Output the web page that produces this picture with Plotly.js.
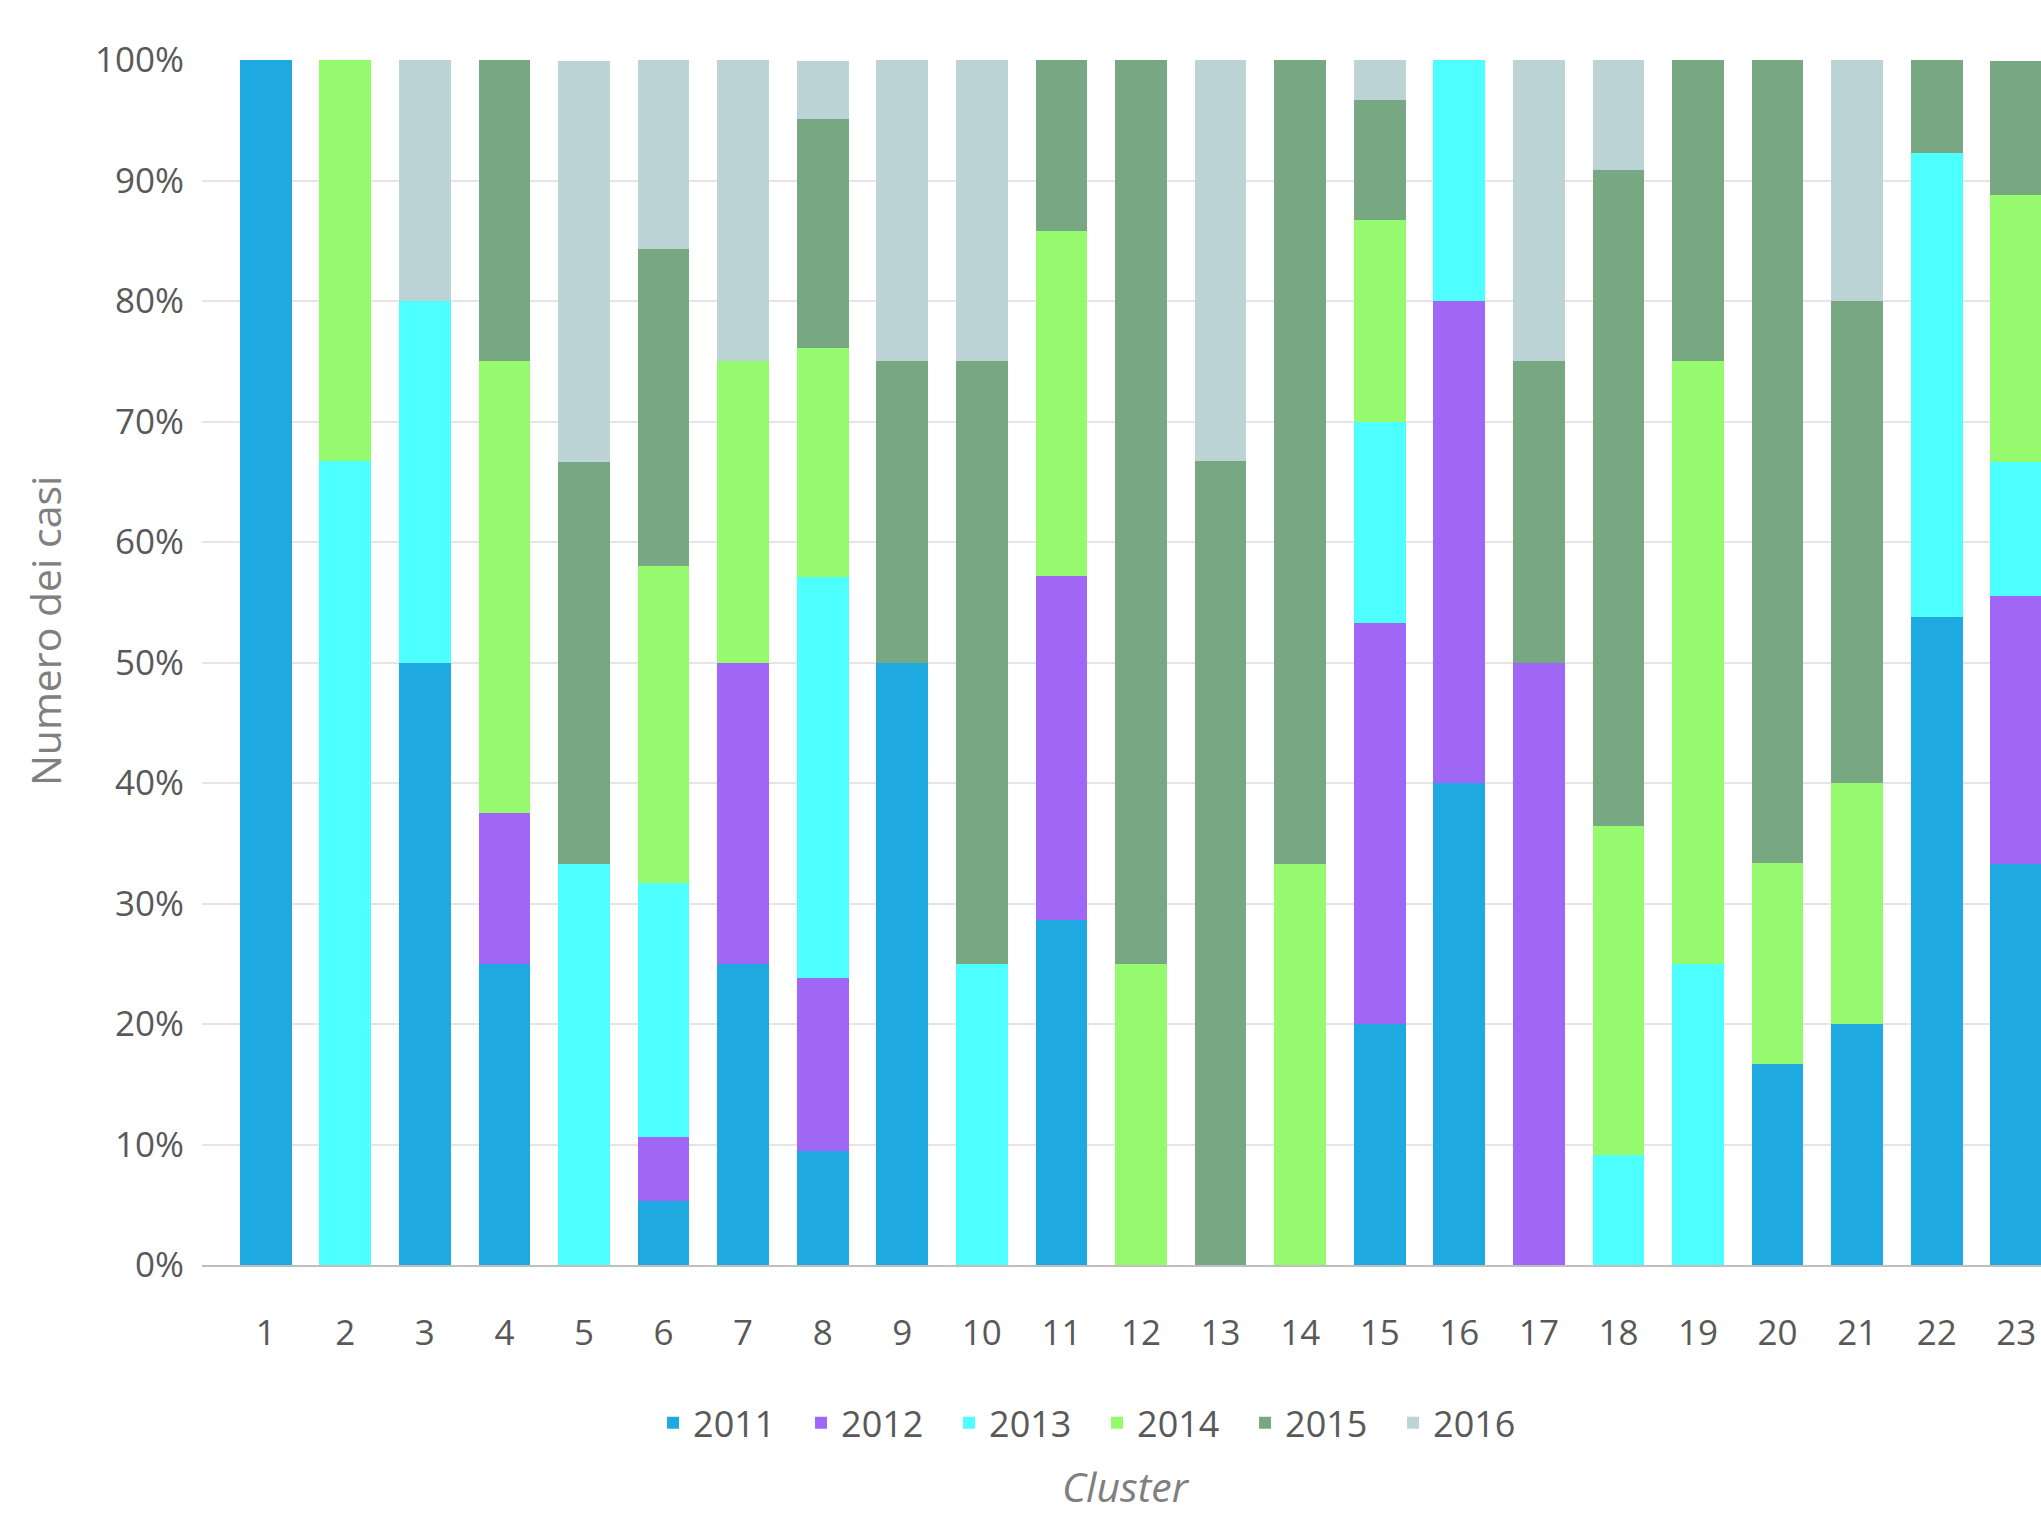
<!DOCTYPE html>
<html>
<head>
<meta charset="utf-8">
<script src="https://cdn.plot.ly/plotly-3.0.1.min.js"></script>
<style>html,body{margin:0;padding:0;background:#fff;}#chart{width:2041px;height:1514px;}</style>
</head>
<body>
<div id="chart"></div>
<script>
// Cluster categories
var clusters = [1,2,3,4,5,6,7,8,9,10,11,12,13,14,15,16,17,18,19,20,21,22,23];
var years = ["2011","2012","2013","2014","2015","2016"];
// Share of cases per year (%), stacked
var y2011 = [100,0,50,25,0,5.3,25,9.5,50,0,28.6,0,0,0,20,40,0,0,0,16.7,20,53.8,33.3];
var y2012 = [0,0,0,12.5,0,5.3,25,14.3,0,0,28.6,0,0,0,33.3,40,50,0,0,0,0,0,22.2];
var y2013 = [0,66.7,30,0,33.3,21.1,0,33.3,0,25,0,0,0,0,16.7,20,0,9.1,25,0,0,38.5,11.1];
var y2014 = [0,33.3,0,37.5,0,26.3,25,19.0,0,0,28.6,25,0,33.3,16.7,0,0,27.3,50,16.7,20,0,22.2];
var y2015 = [0,0,0,25,33.3,26.3,0,19.0,25,50,14.3,75,66.7,66.7,10,0,25,54.5,25,66.7,40,7.7,11.1];
var y2016 = [0,0,20,0,33.3,15.8,25,4.8,25,25,0,0,33.3,0,3.3,0,25,9.1,0,0,20,0,0];
var yTicks = [0,10,20,30,40,50,60,70,80,90,100];

var series = [y2011,y2012,y2013,y2014,y2015,y2016];
var colors = ["#1EAAE0","#A066F5","#4EFFFF","#96FA6E","#78A882","#BDD4D6"];

var traces = series.map(function(vals, i){
  return {
    type: "bar",
    name: years[i],
    x: clusters,
    y: vals,
    marker: {color: colors[i], line: {width: 0}},
    hoverinfo: "x+y+name"
  };
});

var layout = {
  width: 2041,
  height: 1514,
  paper_bgcolor: "#ffffff",
  plot_bgcolor: "#ffffff",
  barmode: "stack",
  bargap: 0.35,
  margin: {l: 202, r: 0, t: 60, b: 249, pad: 0},
  font: {family: "Open Sans, sans-serif", color: "#595959"},
  xaxis: {
    range: [0.2, 23.31],
    tickmode: "array",
    tickvals: clusters,
    ticktext: clusters.map(String),
    ticks: "outside",
    ticklen: 36,
    tickcolor: "rgba(0,0,0,0)",
    tickfont: {size: 35, color: "#595959", family: "Open Sans, sans-serif"},
    showgrid: false,
    zeroline: false,
    showline: true,
    linecolor: "#BFBFBF",
    linewidth: 2,
    fixedrange: true
  },
  yaxis: {
    range: [0, 100],
    tickmode: "array",
    tickvals: yTicks,
    ticktext: yTicks.map(function(v){return v + "%";}),
    ticks: "outside",
    ticklen: 10,
    tickcolor: "rgba(0,0,0,0)",
    tickfont: {size: 35, color: "#595959", family: "Open Sans, sans-serif"},
    showgrid: true,
    gridcolor: "#E8E4E6",
    gridwidth: 2,
    zeroline: false,
    showline: false,
    fixedrange: true
  },
  showlegend: true,
  legend: {
    orientation: "h",
    x: 0.4867,
    xanchor: "center",
    y: -0.131,
    yanchor: "middle",
    font: {size: 36, color: "#595959", family: "Open Sans, sans-serif"},
    itemwidth: 30,
    entrywidth: 103,
    traceorder: "normal",
    bgcolor: "rgba(0,0,0,0)"
  },
  annotations: [
    {
      text: "Numero dei casi",
      xref: "paper", yref: "paper",
      x: -0.0854, y: 0.526,
      xanchor: "center", yanchor: "middle",
      textangle: -90,
      showarrow: false,
      font: {size: 41, color: "#808080", family: "Open Sans, sans-serif"}
    },
    {
      text: "<i>Cluster</i>",
      xref: "paper", yref: "paper",
      x: 0.5024, y: -0.1835,
      xanchor: "center", yanchor: "middle",
      showarrow: false,
      font: {size: 41, color: "#7F7F7F", family: "Open Sans, sans-serif"}
    }
  ]
};

Plotly.newPlot("chart", traces, layout, {displayModeBar: false, staticPlot: true});
</script>
</body>
</html>
